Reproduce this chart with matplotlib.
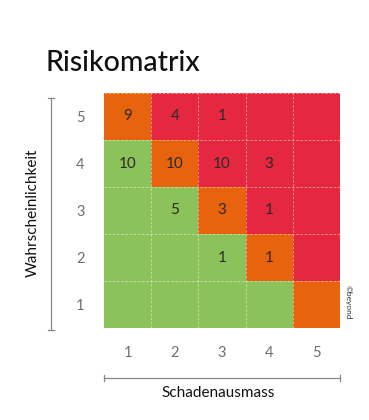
import matplotlib
matplotlib.use("Agg")
import matplotlib.pyplot as plt
import numpy as np
from matplotlib.colors import ListedColormap
from matplotlib.lines import Line2D

plt.rcParams['font.family'] = ['Lato', 'DejaVu Sans']

# Data
impact_labels = ["1", "2", "3", "4", "5"]            # Schadenausmass (x)
likelihood_labels = ["1", "2", "3", "4", "5"]        # Wahrscheinlichkeit (y)
# risk level per cell: 0 = low (green), 1 = medium (orange), 2 = high (red); row index = likelihood 1..5
risk_level = [
    [0, 0, 0, 0, 1],   # likelihood 1
    [0, 0, 0, 1, 2],   # likelihood 2
    [0, 0, 1, 2, 2],   # likelihood 3
    [0, 1, 2, 2, 2],   # likelihood 4
    [1, 2, 2, 2, 2],   # likelihood 5
]
# counts per cell (None = empty)
counts = [
    [None, None, None, None, None],
    [None, None, 1, 1, None],
    [None, 5, 3, 1, None],
    [10, 10, 10, 3, None],
    [9, 4, 1, None, None],
]
level_colors = ["#8CC25A", "#E8630E", "#E52840"]

W, H = 369, 420
fig = plt.figure(figsize=(W / 100, H / 100), dpi=100)
ax = fig.add_axes([104 / W, 1 - 328 / H, 236 / W, 235 / H])

cmap = ListedColormap(level_colors)
ax.pcolormesh(np.arange(0.5, 6.5), np.arange(0.5, 6.5), np.array(risk_level),
              cmap=cmap, vmin=-0.5, vmax=2.5)
for k in np.arange(1.5, 5.5):
    ax.axvline(k, color="white", lw=0.6, ls=(0, (3, 2)), alpha=0.55)
    ax.axhline(k, color="white", lw=0.6, ls=(0, (3, 2)), alpha=0.55)
ax.axhline(5.5, color="white", lw=0.6, ls=(0, (3, 2)), alpha=0.55)

for i, row in enumerate(counts):
    for j, v in enumerate(row):
        if v is not None:
            ax.text(j + 1, i + 1, str(v), ha="center", va="center",
                    fontsize=11, color="#2a2a2a")

ax.set_xlim(0.5, 5.5)
ax.set_ylim(0.5, 5.5)
ax.set_xticks(range(1, 6))
ax.set_xticklabels(impact_labels)
ax.set_yticks(range(1, 6))
ax.set_yticklabels(likelihood_labels)
ax.tick_params(length=0, labelsize=10.5, labelcolor="#6e6e6e", pad=13)
ax.tick_params(axis="y", pad=14)
for s in ax.spines.values():
    s.set_visible(False)

def px(x, y):
    return x / W, 1 - y / H

# Title
fig.text(*px(46, 63), "Risikomatrix", fontsize=20.5, fontweight="medium",
         ha="left", va="center", color="#111111")

# Axis lines with caps
lc = "#888888"
fig.add_artist(Line2D([51 / W, 51 / W], [1 - 98 / H, 1 - 330 / H], color=lc, lw=0.9))
for yy in (98, 330):
    fig.add_artist(Line2D([48 / W, 54 / W], [1 - yy / H, 1 - yy / H], color=lc, lw=0.9))
fig.add_artist(Line2D([104 / W, 340 / W], [1 - 378 / H, 1 - 378 / H], color=lc, lw=0.9))
for xx in (104, 340):
    fig.add_artist(Line2D([xx / W, xx / W], [1 - 375 / H, 1 - 381 / H], color=lc, lw=0.9))

fig.text(*px(218, 393), "Schadenausmass", fontsize=11, ha="center", va="center", color="#111111")
fig.text(*px(33, 213), "Wahrscheinlichkeit", fontsize=11, ha="center", va="center",
         rotation=90, color="#111111")
fig.text(*px(348, 302), "©beyond", fontsize=6, ha="center", va="center",
         rotation=-90, color="#333333")

fig.savefig("out.png", dpi=100, facecolor="white")
